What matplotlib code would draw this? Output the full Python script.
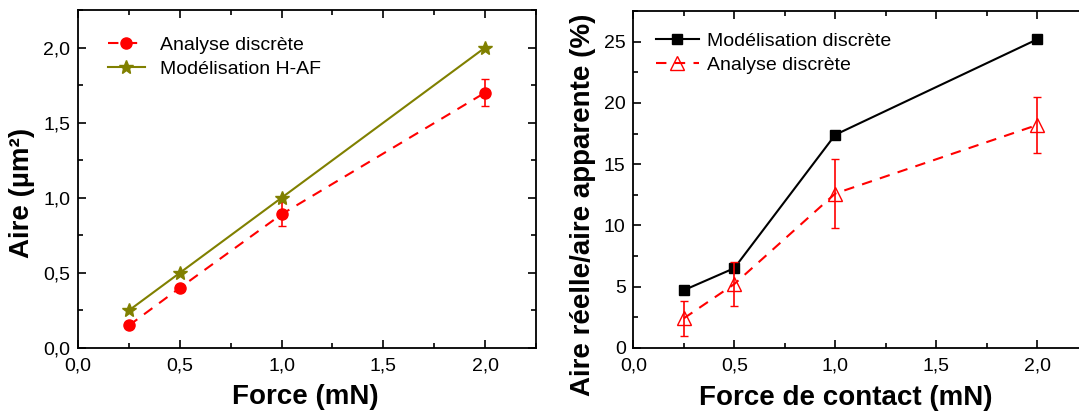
import numpy as np
import matplotlib.pyplot as plt
from matplotlib.ticker import MultipleLocator, FuncFormatter

plt.rcParams['font.family'] = ['Liberation Sans', 'DejaVu Sans']

# left panel
force = [0.25, 0.5, 1.0, 2.0]
aire_analyse = [0.15, 0.40, 0.89, 1.70]
aire_analyse_err = [0.0, 0.0, 0.08, 0.09]
aire_modele = [0.25, 0.50, 1.00, 2.00]

# right panel
ratio_modele = [4.7, 6.5, 17.4, 25.2]
ratio_analyse = [2.4, 5.2, 12.6, 18.2]
ratio_analyse_err = [1.4, 1.8, 2.8, 2.3]

comma = FuncFormatter(lambda v, p: f'{v:.1f}'.replace('.', ','))

def style(ax):
    ax.tick_params(which='both', direction='in', top=True, right=True,
                   labelsize=14, width=1.2)
    ax.tick_params(which='major', length=6)
    ax.tick_params(which='minor', length=3.5)
    ax.tick_params(axis='x', pad=7)
    ax.tick_params(axis='y', pad=5.5)
    for s in ax.spines.values():
        s.set_linewidth(1.3)

def labels(ax, xl, yl, xpos, ypos):
    ax.set_xlabel(xl, fontsize=20, fontweight='bold')
    ax.set_ylabel(yl, fontsize=20, fontweight='bold')
    ax.xaxis.label.set_va('center')
    ax.yaxis.label.set_va('center')
    ax.xaxis.set_label_coords(*xpos)
    ax.yaxis.set_label_coords(*ypos)

fig = plt.figure(figsize=(10.79, 4.13), dpi=100)

ax1 = fig.add_axes([0.0723, 0.1574, 0.4245, 0.8184])
ax1.plot(force, aire_analyse, color='red', ls=(0, (5, 4)), lw=1.5,
         marker='o', ms=8, label='Analyse discrète')
ax1.errorbar(force, aire_analyse, yerr=aire_analyse_err, fmt='none',
             ecolor='red', capsize=3, elinewidth=1.2)
ax1.plot(force, aire_modele, color='#808000', lw=1.5, marker='*', ms=10,
         label='Modélisation H-AF')
ax1.set_xlim(0, 2.25)
ax1.set_ylim(0, 2.25)
ax1.xaxis.set_major_locator(MultipleLocator(0.5))
ax1.xaxis.set_minor_locator(MultipleLocator(0.25))
ax1.yaxis.set_major_locator(MultipleLocator(0.5))
ax1.yaxis.set_minor_locator(MultipleLocator(0.25))
ax1.xaxis.set_major_formatter(comma)
ax1.yaxis.set_major_formatter(comma)
style(ax1)
labels(ax1, 'Force (mN)', 'Aire (µm²)', (0.497, -0.145), (-0.122, 0.46))
ax1.legend(loc='upper left', frameon=False, fontsize=14, handlelength=1.9,
           handletextpad=0.8, bbox_to_anchor=(0.048, 0.945), borderaxespad=0,
           labelspacing=0.32)

ax2 = fig.add_axes([0.5869, 0.158, 0.4212, 0.815])
ax2.plot(force, ratio_modele, color='black', lw=1.5, marker='s', ms=7.5,
         label='Modélisation discrète')
ax2.plot(force, ratio_analyse, color='red', ls=(0, (5, 4)), lw=1.5,
         marker='^', ms=10, mfc='none', mec='red', label='Analyse discrète')
ax2.errorbar(force, ratio_analyse, yerr=ratio_analyse_err, fmt='none',
             ecolor='red', capsize=3, elinewidth=1.2)
ax2.set_xlim(0, 2.25)
ax2.set_ylim(0, 27.5)
ax2.xaxis.set_major_locator(MultipleLocator(0.5))
ax2.xaxis.set_minor_locator(MultipleLocator(0.25))
ax2.yaxis.set_major_locator(MultipleLocator(5))
ax2.yaxis.set_minor_locator(MultipleLocator(2.5))
ax2.xaxis.set_major_formatter(comma)
style(ax2)
labels(ax2, 'Force de contact (mN)', 'Aire réelle/aire apparente (%)',
       (0.468, -0.149), (-0.11, 0.424))
ax2.legend(loc='upper left', frameon=False, fontsize=14, handlelength=2.2,
           handletextpad=0.4, bbox_to_anchor=(0.033, 0.96), borderaxespad=0,
           labelspacing=0.32)

fig.savefig('out.png', dpi=100)
